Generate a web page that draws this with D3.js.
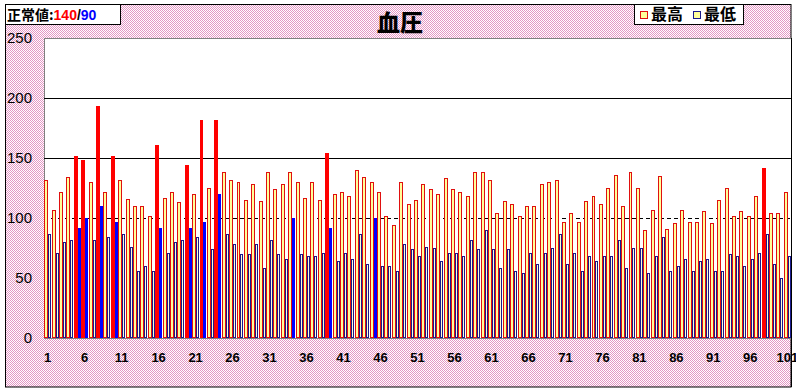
<!DOCTYPE html>
<html>
<head>
<meta charset="utf-8">
<script src="https://cdn.jsdelivr.net/npm/d3@7"></script>
<style>
  body { margin:0; background:#fff; }
  svg text { font-family: "Liberation Sans", Arial, sans-serif; }
  .cjk { font-family: "Noto Sans CJK JP", "Noto Sans CJK SC", sans-serif; }
</style>
</head>
<body>
<div id="chart"></div>
<script>
// data
var days = d3.range(1, 102);
var systolic = [132,107,122,134,152,148,130,193,122,152,
  132,116,110,110,102,161,117,122,113,144,
  120,182,125,182,138,132,130,115,128,114,
  138,124,128,138,130,117,130,115,154,120,
  122,118,140,134,130,122,102,94,130,112,
  115,128,124,120,133,124,122,118,138,138,
  132,104,114,112,102,110,110,128,130,132,
  97,104,97,114,118,112,125,136,110,138,
  125,90,107,135,91,96,107,97,97,106,
  96,115,125,102,106,102,118,142,104,104,122];
var diastolic = [87,71,80,82,92,100,82,110,84,97,
  87,76,56,60,56,92,71,80,82,92,
  84,97,74,120,87,78,70,70,78,58,
  82,70,66,100,70,68,68,71,92,64,
  71,66,87,62,100,60,60,56,78,74,
  68,76,75,64,71,71,68,82,74,90,
  74,58,74,56,54,71,62,71,75,87,
  62,71,56,68,64,68,68,82,58,75,
  75,54,68,84,56,60,66,56,64,66,
  56,56,70,68,60,66,71,87,62,50,68];
var yTicks = [0,50,100,150,200,250];
var xTickLabels = d3.range(1, 102, 5);
var limitHigh = 140, limitLow = 90;

var W = 796, H = 391;
var plot = { left:44, right:791, top:38, bottom:338 };

var svg = d3.select("#chart").append("svg")
  .attr("width", W).attr("height", H);

var defs = svg.append("defs");
var pat = defs.append("pattern").attr("id","pink")
  .attr("width",2).attr("height",2).attr("patternUnits","userSpaceOnUse");
pat.append("rect").attr("width",2).attr("height",2).attr("fill","#ffffff");
pat.append("rect").attr("width",1).attr("height",1).attr("fill","#e496c4");
pat.append("rect").attr("x",1).attr("y",1).attr("width",1).attr("height",1).attr("fill","#e496c4");

// chart area
svg.append("rect").attr("x",5.5).attr("y",4.5).attr("width",785.5).attr("height",382.5)
  .attr("fill","url(#pink)").attr("stroke","#000");

var x = d3.scaleBand().domain(days).range([plot.left, plot.right])
  .paddingInner(0.06).paddingOuter(0.03);
var y = d3.scaleLinear().domain([0,250]).range([plot.bottom, plot.top]);

svg.append("rect").attr("x",plot.left+0.5).attr("y",plot.top+0.5)
  .attr("width",plot.right-plot.left).attr("height",plot.bottom-plot.top)
  .attr("fill","#fff").attr("stroke","#808080");
svg.append("line").attr("x1",plot.right+0.5).attr("x2",plot.right+0.5)
  .attr("y1",plot.top).attr("y2",H-4).attr("stroke","#000");

// grid lines
svg.selectAll(".grid").data([150,200]).enter().append("line")
  .attr("x1",plot.left).attr("x2",plot.right)
  .attr("y1",function(d){return Math.round(y(d))+0.5;})
  .attr("y2",function(d){return Math.round(y(d))+0.5;})
  .attr("stroke","#000");
svg.append("line").attr("x1",plot.left).attr("x2",plot.right)
  .attr("y1",Math.round(y(100))+0.5).attr("y2",Math.round(y(100))+0.5)
  .attr("stroke","#000").attr("stroke-dasharray","4,3");

// bars, snapped to whole pixels
var rows = days.map(function(d,i){ return {day:d, sys:systolic[i], dia:diastolic[i]}; });
var g = svg.selectAll(".day").data(rows).enter().append("g")
  .attr("shape-rendering","crispEdges");

function barX(d, k){
  var x0 = Math.round(x(d.day)), x2 = Math.round(x(d.day) + x.bandwidth());
  var mid = Math.round((x0 + x2) / 2);
  return k == 0 ? [x0, mid] : [mid, x2];
}

g.append("rect")
  .attr("x", function(d){ return barX(d,0)[0]+0.5; })
  .attr("y", function(d){ return Math.round(y(d.sys))+0.5; })
  .attr("width", function(d){ var b = barX(d,0); return b[1]-b[0]-1; })
  .attr("height", function(d){ return y(0)-Math.round(y(d.sys))-1; })
  .attr("fill", function(d){ return d.sys > limitHigh ? "#ff0000" : "#ffff99"; })
  .attr("stroke", function(d){ return d.sys > limitHigh ? "#ff0000" : "#e01010"; })
  .attr("stroke-width",1);

g.append("rect")
  .attr("x", function(d){ return barX(d,1)[0]+0.5; })
  .attr("y", function(d){ return Math.round(y(d.dia))+0.5; })
  .attr("width", function(d){ var b = barX(d,1); return b[1]-b[0]-1; })
  .attr("height", function(d){ return y(0)-Math.round(y(d.dia))-1; })
  .attr("fill", function(d){ return d.dia > limitLow ? "#0000ff" : "#ffffd0"; })
  .attr("stroke", function(d){ return d.dia > limitLow ? "#0000ff" : "#1a1a8c"; })
  .attr("stroke-width",1);

// y labels
svg.selectAll(".ylab").data(yTicks).enter().append("text")
  .attr("x",32).attr("y",function(d){ return y(d); })
  .attr("dy","0.36em").attr("text-anchor","end")
  .attr("font-size",15).attr("fill","#000")
  .text(function(d){ return d; });

// x labels
svg.selectAll(".xlab").data(xTickLabels).enter().append("text")
  .attr("x",function(d){ return x(d)+x.bandwidth()/2; })
  .attr("y",362).attr("text-anchor","middle")
  .attr("font-size",13).attr("font-weight","bold").attr("fill","#000")
  .text(function(d){ return d; });

// title
svg.append("text").attr("class","cjk").attr("x",400).attr("y",31)
  .attr("text-anchor","middle").attr("font-size",23).attr("font-weight","900")
  .text("血圧");

// normal value box
svg.append("rect").attr("x",5.5).attr("y",4.5).attr("width",115).attr("height",20)
  .attr("fill","#fff").attr("stroke","#000");
var nt = svg.append("text").attr("class","cjk").attr("x",7).attr("y",20)
  .attr("font-size",14).attr("font-weight","bold");
nt.append("tspan").text("正常値:");
nt.append("tspan").attr("fill","#ff0000").attr("font-family","Liberation Sans").text(limitHigh);
nt.append("tspan").attr("font-family","Liberation Sans").text("/");
nt.append("tspan").attr("fill","#0000ff").attr("font-family","Liberation Sans").text(limitLow);

// legend
svg.append("rect").attr("x",634.5).attr("y",4.5).attr("width",109).attr("height",20)
  .attr("fill","#fff").attr("stroke","#000");
var legend = [
  {label:"最高", fill:"#ffff99", stroke:"#e01010", x:640},
  {label:"最低", fill:"#ffff99", stroke:"#1a1a8c", x:693}
];
var lg = svg.selectAll(".leg").data(legend).enter().append("g");
lg.append("rect")
  .attr("x",function(d){ return d.x+0.5; }).attr("y",11.5)
  .attr("width",7).attr("height",7)
  .attr("fill",function(d){ return d.fill; }).attr("stroke",function(d){ return d.stroke; });
lg.append("text").attr("class","cjk")
  .attr("x",function(d){ return d.x+11; }).attr("y",20)
  .attr("font-size",16).attr("font-weight","bold")
  .text(function(d){ return d.label; });
</script>
</body>
</html>
